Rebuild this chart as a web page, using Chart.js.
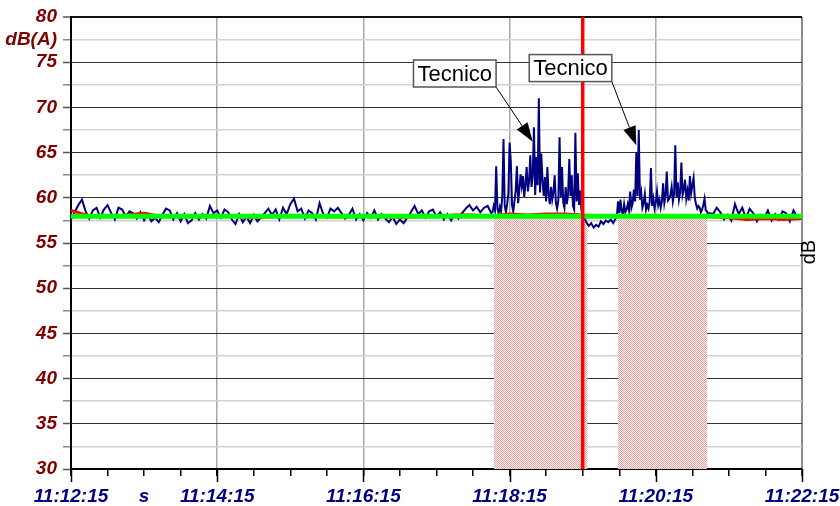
<!DOCTYPE html>
<html>
<head>
<meta charset="utf-8">
<script src="https://cdn.jsdelivr.net/npm/chart.js@4/dist/chart.umd.min.js"></script>
<style>
  html, body { margin: 0; padding: 0; background: #fff; }
  #chart { display: block; }
</style>
</head>
<body>
<canvas id="chart" width="840" height="506"></canvas>
<script>
// time axis in seconds from 11:12:15
const startClock = 11 * 3600 + 12 * 60 + 15;
const axisEnd = 600;

// sound level in segments (start second, step, values)
const quietStart = 0, quietStep = 3;
const quietLevels = [
  57.6, 58.4, 59.2, 59.8, 58.5, 57.7, 58.6, 58.9, 57.8, 58.7, 59.2, 58.3, 57.6, 58.9, 58.7, 57.9,
  58.5, 58.3, 57.7, 58.4, 57.5, 58.2, 57.4, 57.8, 57.3, 58.1, 58.8, 58.6, 57.6, 58.3, 57.4, 58.2,
  57.2, 57.5, 58.3, 57.6, 58.2, 57.7, 59.1, 58.3, 58.6, 57.8, 58.7, 58.4, 57.6, 57.1, 58.2, 57.3,
  57.9, 57.2, 58.1, 57.4, 57.8, 58.3, 58.8, 58.1, 58.7, 57.6, 58.9, 58.2, 59.3, 59.9, 58.5, 58.8,
  57.7, 58.6, 58.3, 57.6, 59.4, 58.2, 57.8, 58.8, 58.5, 58.9, 58.3, 57.7, 58.1, 58.8, 57.6, 58.2,
  57.5, 58.3, 57.8, 58.6, 57.6, 58.2, 57.7, 57.3, 57.9, 57.1, 57.6, 57.2, 57.8, 58.4, 59.1, 58.2,
  58.6, 57.8, 58.5, 58.7, 57.9, 58.4, 57.6, 58.2, 57.5, 58.1, 57.7, 58.3, 58.8, 59.2, 58.6, 59.0,
  58.4, 58.9, 59.1, 58.3
];

const burst1Start = 346, burst1Step = 1;
const burst1Levels = [
  58.4, 59.1, 58.6, 63.5, 58.8, 58.3, 59.0, 58.5, 60.2, 66.5, 59.1, 58.4, 59.3, 60.5, 66.1, 64.0,
  59.2, 58.5, 59.6, 60.8, 63.5, 59.4, 60.9, 62.6, 61.3, 62.4, 60.1, 61.5, 63.4, 60.7, 61.8, 64.7,
  61.2, 62.5, 67.8, 60.3, 64.5, 61.4, 71.0, 60.6, 64.9, 61.9, 60.2, 62.3, 59.6, 63.4, 60.4, 59.3,
  61.2, 59.8, 60.6, 62.5, 59.4, 58.8, 59.7, 66.7, 60.1, 63.4, 59.5, 58.9, 61.2, 59.3, 60.4, 64.3,
  60.2, 62.5, 59.1, 58.7, 67.2, 59.6, 62.7, 59.2, 60.8, 58.6, 58.2
];

const dipStart = 421, dipStep = 2;
const dipLevels = [57.8, 57.3, 56.9, 57.2, 56.7, 57.0, 56.8, 57.4, 57.1, 57.5, 57.3, 57.6, 57.2, 57.7];

const burst2Start = 448, burst2Step = 1;
const burst2Levels = [
  57.9, 59.6, 58.3, 59.8, 58.5, 58.2, 59.3, 58.4, 58.7, 59.3, 58.6, 60.7, 58.9, 59.4, 60.9, 59.6,
  65.0, 60.2, 67.5, 59.8, 60.6, 58.9, 59.4, 60.4, 58.7, 59.2, 58.8, 59.6, 63.3, 59.1, 59.9, 58.8,
  59.5, 60.7, 59.2, 59.8, 58.9, 59.6, 61.6, 59.4, 60.2, 62.9, 59.7, 59.9, 60.3, 61.2, 59.6, 60.4,
  65.8, 60.1, 61.7, 59.8, 60.6, 63.9, 60.3, 60.9, 62.0, 59.9, 60.8, 59.7, 62.4, 60.5, 61.4, 62.2,
  60.0, 59.3, 58.8, 59.1, 58.9, 58.4, 58.7, 59.2, 59.9, 58.6, 58.5, 58.1, 58.3
];

const tailStart = 527, tailStep = 3;
const tailLevels = [
  58.2, 58.9, 58.4, 57.6, 58.1, 57.5, 59.3, 58.2, 58.9, 57.7, 58.8, 58.3, 57.4, 58.1, 57.8, 58.6,
  57.5, 58.2, 57.6, 58.5, 58.3, 57.4, 58.6, 57.9, 58.1
];

// running level (red), every 15 s
const leqStep = 15;
const leqLevels = [
  58.6, 58.0, 57.9, 58.1, 58.3, 57.9, 57.9, 57.9, 58.0, 57.9, 57.8, 57.9, 57.9, 58.0, 57.9, 57.9,
  57.9, 57.9, 57.8, 57.9, 57.9, 58.1, 58.1, 58.0, 58.2, 58.1, 58.2, 58.2, 58.1, 57.9, 58.0, 58.0,
  58.0, 58.0, 58.0, 57.9, 57.8, 57.6, 57.7, 57.6, 57.7
];

// background level (green)
const baseTimes = [0, 600];
const baseLevels = [57.95, 57.95];

// masked periods (pink) and marker (red line)
const maskStarts = [347, 449];
const maskEnds = [424, 522];
const maskLevel = 57.8;
const markerTime = 420;

// text notes with arrows: box centre and arrow tip in data units
const notes = [
  { text: "Tecnico", t: 315, v: 73.75, tipT: 379, tipV: 66.2 },
  { text: "Tecnico", t: 410, v: 74.35, tipT: 464, tipV: 65.8 }
];

const fontFamily = "'Liberation Sans', Arial, sans-serif";

function buildSeries(start, step, values) {
  return values.map((v, i) => ({ x: start + i * step, y: v }));
}

function clockLabel(sec) {
  const total = startClock + sec;
  const h = Math.floor(total / 3600);
  const m = Math.floor((total % 3600) / 60);
  const s = total % 60;
  return h + ":" + String(m).padStart(2, "0") + ":" + String(s).padStart(2, "0");
}

function hatchPattern(ctx) {
  const c = document.createElement("canvas");
  c.width = 2;
  c.height = 2;
  const p = c.getContext("2d");
  p.fillStyle = "#ffffff";
  p.fillRect(0, 0, 2, 2);
  p.fillStyle = "#ff9494";
  p.fillRect(0, 0, 1, 1);
  p.fillRect(1, 1, 1, 1);
  return ctx.createPattern(c, "repeat");
}

const levelPoints = [
  ...buildSeries(quietStart, quietStep, quietLevels),
  ...buildSeries(burst1Start, burst1Step, burst1Levels),
  ...buildSeries(dipStart, dipStep, dipLevels),
  ...buildSeries(burst2Start, burst2Step, burst2Levels),
  ...buildSeries(tailStart, tailStep, tailLevels)
];

const canvas = document.getElementById("chart");
const pattern = hatchPattern(canvas.getContext("2d"));

const maskSets = maskStarts.map((s, i) => ({
  data: [{ x: s, y: maskLevel }, { x: maskEnds[i], y: maskLevel }],
  borderWidth: 0,
  backgroundColor: pattern,
  fill: "start",
  order: 5
}));

// long ticks, note boxes and the right "dB" label
const overlayPlugin = {
  id: "overlay",
  afterDraw(chart) {
    const { ctx, chartArea } = chart;
    const x = chart.scales.x;
    const y = chart.scales.y;
    ctx.save();

    ctx.strokeStyle = "#000";
    ctx.lineWidth = 1.5;
    x.ticks.forEach(t => {
      if (t.value % 120 === 0) {
        const px = Math.round(x.getPixelForValue(t.value)) + 0.5;
        ctx.beginPath();
        ctx.moveTo(px, chartArea.bottom);
        ctx.lineTo(px, chartArea.bottom + 13);
        ctx.stroke();
      }
    });

    ctx.font = "22px " + fontFamily;
    ctx.textAlign = "center";
    ctx.textBaseline = "middle";
    notes.forEach(n => {
      const cx = x.getPixelForValue(n.t);
      const cy = y.getPixelForValue(n.v);
      const w = ctx.measureText(n.text).width + 8;
      const h = 27;
      const left = cx - w / 2, top = cy - h / 2;
      const sx = left + w, sy = top + h;
      const tx = x.getPixelForValue(n.tipT);
      const ty = y.getPixelForValue(n.tipV);

      // arrow shaft and head
      const ang = Math.atan2(ty - sy, tx - sx);
      const headLen = 19, headHalf = 6.5;
      const bx = tx - headLen * Math.cos(ang), by = ty - headLen * Math.sin(ang);
      ctx.strokeStyle = "#000";
      ctx.lineWidth = 1;
      ctx.beginPath();
      ctx.moveTo(sx, sy);
      ctx.lineTo(bx, by);
      ctx.stroke();
      ctx.fillStyle = "#000";
      ctx.beginPath();
      ctx.moveTo(tx, ty);
      ctx.lineTo(bx + headHalf * Math.sin(ang), by - headHalf * Math.cos(ang));
      ctx.lineTo(bx - headHalf * Math.sin(ang), by + headHalf * Math.cos(ang));
      ctx.closePath();
      ctx.fill();

      // box
      ctx.fillStyle = "#fff";
      ctx.fillRect(left, top, w, h);
      ctx.strokeStyle = "#555";
      ctx.lineWidth = 1.5;
      ctx.strokeRect(left, top, w, h);
      ctx.fillStyle = "#000";
      ctx.fillText(n.text, cx, cy + 1);
    });

    ctx.font = "20px " + fontFamily;
    ctx.fillStyle = "#000";
    ctx.translate(chartArea.right + 7, y.getPixelForValue(54));
    ctx.rotate(-Math.PI / 2);
    ctx.fillText("dB", 0, 0);
    ctx.restore();
  }
};

new Chart(canvas, {
  type: "line",
  data: {
    datasets: [
      ...maskSets,
      {
        data: levelPoints,
        borderColor: "#000080",
        borderWidth: 2,
        order: 4
      },
      {
        data: buildSeries(0, leqStep, leqLevels),
        borderColor: "#ff0000",
        borderWidth: 3,
        order: 3
      },
      {
        data: baseTimes.map((t, i) => ({ x: t, y: baseLevels[i] })),
        borderColor: "#00ff00",
        borderWidth: 5,
        order: 2
      },
      {
        data: [{ x: markerTime, y: 30 }, { x: markerTime, y: 80 }],
        borderColor: "#ff0000",
        borderWidth: 3.5,
        order: 1
      }
    ]
  },
  options: {
    responsive: false,
    animation: false,
    devicePixelRatio: 1,
    layout: { padding: { top: 17, right: 38, bottom: 0, left: 0 } },
    elements: { point: { radius: 0 }, line: { tension: 0 } },
    plugins: { legend: { display: false }, tooltip: { enabled: false } },
    scales: {
      x: {
        type: "linear",
        min: 0,
        max: axisEnd,
        afterFit: scale => {
          scale.height = 37;
          scale.paddingLeft = 0;
          scale.paddingRight = 0;
        },
        border: { color: "#000", width: 2 },
        grid: {
          color: c => (c.tick && c.tick.value % 120 === 0) ? (c.tick.value === axisEnd ? "#8a8a8a" : "#a8a8a8") : "rgba(0,0,0,0)",
          lineWidth: c => (c.tick && c.tick.value === axisEnd) ? 2 : 1.5,
          tickLength: 7,
          tickColor: "#000",
          tickWidth: 1.5
        },
        ticks: {
          stepSize: 30,
          autoSkip: false,
          maxRotation: 0,
          padding: 9,
          color: "#000080",
          font: { family: fontFamily, size: 19, style: "italic", weight: "bold" },
          callback: v => v % 120 === 0 ? clockLabel(v) : (v === 60 ? "s" : "")
        }
      },
      y: {
        min: 30,
        max: 80,
        afterFit: scale => {
          scale.width = 71;
          scale.paddingTop = 0;
          scale.paddingBottom = 0;
        },
        border: { color: "#000", width: 2 },
        grid: {
          color: c => {
            if (!c.tick) return "#ccc";
            if (c.tick.value === 80) return "#111";
            return c.tick.value % 5 === 0 ? "#333" : "#d2d2d2";
          },
          lineWidth: c => {
            if (!c.tick) return 1;
            if (c.tick.value === 80) return 2;
            return c.tick.value % 5 === 0 ? 1 : 1.5;
          },
          tickLength: 8,
          tickColor: c => (c.tick && c.tick.value % 5 === 0) ? "#555" : "#888",
          tickWidth: 1.5
        },
        ticks: {
          stepSize: 2.5,
          autoSkip: false,
          padding: 6,
          color: "#800000",
          font: { family: fontFamily, size: 19, style: "italic", weight: "bold" },
          callback: v => v % 5 === 0 ? String(v) : (v === 77.5 ? "dB(A)" : "")
        }
      }
    }
  },
  plugins: [overlayPlugin]
});
</script>
</body>
</html>
